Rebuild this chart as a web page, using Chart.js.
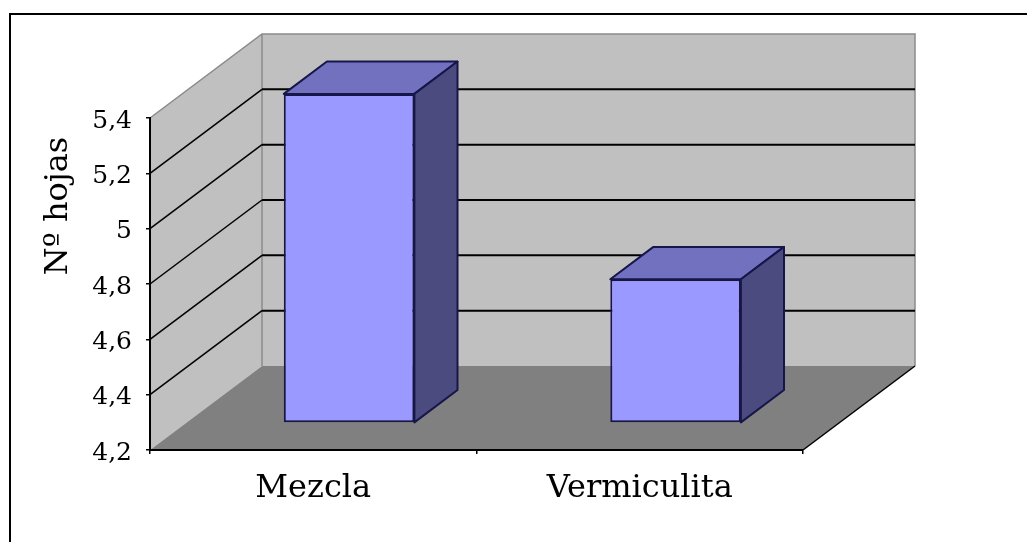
<!DOCTYPE html>
<html>
<head>
<meta charset="utf-8">
<script src="https://cdn.jsdelivr.net/npm/chart.js@4/dist/chart.umd.min.js"></script>
<style>
html, body { margin: 0; padding: 0; background: #ffffff; }
canvas { display: block; }
</style>
</head>
<body>
<canvas id="c" width="1027" height="542"></canvas>
<script>
// ---- data ----
const categories = ['Mezcla', 'Vermiculita'];
const hojas = [5.39, 4.72];
const yTickValues = [4.2, 4.4, 4.6, 4.8, 5.0, 5.2, 5.4];
const yTickLabels = ['4,2', '4,4', '4,6', '4,8', '5', '5,2', '5,4'];
const yTitle = 'Nº hojas';

// ---- 3D look ----
const DX = 112, DY = 84;          // depth of the plot box
const BAR_FRONT = 0.32;           // depth fraction of bar front face
const BAR_DEPTH = 0.385;          // depth fraction of bar thickness
const FONT = "'DejaVu Serif', 'Liberation Serif', serif";

function poly(ctx, pts) {
  ctx.beginPath();
  ctx.moveTo(pts[0][0], pts[0][1]);
  for (let i = 1; i < pts.length; i++) ctx.lineTo(pts[i][0], pts[i][1]);
  ctx.closePath();
}

const walls3d = {
  id: 'walls3d',
  beforeDraw(chart) {
    const { ctx, chartArea: a } = chart;
    const y = chart.scales.y;
    const L = a.left, R = a.right, T = a.top, B = a.bottom;
    ctx.save();
    ctx.fillStyle = '#ffffff';
    ctx.fillRect(0, 0, chart.width, chart.height);
    // outer frame
    ctx.strokeStyle = '#000000';
    ctx.lineWidth = 2;
    ctx.strokeRect(10, 14, 1200, 800);
    // back wall
    ctx.fillStyle = '#c0c0c0';
    ctx.fillRect(L + DX, T - DY, R - L, B - T);
    // side wall
    poly(ctx, [[L, T], [L + DX, T - DY], [L + DX, B - DY], [L, B]]);
    ctx.fill();
    // floor
    ctx.fillStyle = '#808080';
    poly(ctx, [[L, B], [R, B], [R + DX, B - DY], [L + DX, B - DY]]);
    ctx.fill();
    // wall edges
    ctx.strokeStyle = '#8a8a8a';
    ctx.lineWidth = 1.5;
    ctx.beginPath();
    ctx.moveTo(L, T); ctx.lineTo(L + DX, T - DY); ctx.lineTo(R + DX, T - DY); ctx.lineTo(R + DX, B - DY);
    ctx.moveTo(L + DX, T - DY); ctx.lineTo(L + DX, B - DY);
    ctx.stroke();
    // gridlines on the walls
    ctx.strokeStyle = '#000000';
    yTickValues.forEach(v => {
      if (v === yTickValues[0] || v === yTickValues[yTickValues.length - 1]) return;
      const py = y.getPixelForValue(v);
      ctx.lineWidth = 2;
      ctx.beginPath();
      ctx.moveTo(L + DX, py - DY); ctx.lineTo(R + DX, py - DY);
      ctx.stroke();
      ctx.lineWidth = 1.5;
      ctx.beginPath();
      ctx.moveTo(L, py); ctx.lineTo(L + DX, py - DY);
      ctx.stroke();
    });
    // floor right edge
    ctx.lineWidth = 1.5;
    ctx.beginPath();
    ctx.moveTo(R, B); ctx.lineTo(R + DX, B - DY);
    ctx.stroke();
    ctx.restore();
  },
  afterDraw(chart) {
    const { ctx } = chart;
    ctx.save();
    ctx.font = '32px ' + FONT;
    ctx.fillStyle = '#000000';
    ctx.textAlign = 'center';
    ctx.textBaseline = 'alphabetic';
    ctx.translate(67, 206);
    ctx.rotate(-Math.PI / 2);
    ctx.fillText(yTitle, 0, 0);
    ctx.restore();
  }
};

const bars3d = {
  id: 'bars3d',
  beforeDatasetsDraw(chart) {
    chart.ctx.save();
    chart.ctx.translate(BAR_FRONT * DX, -BAR_FRONT * DY);
  },
  afterDatasetsDraw(chart) {
    const ctx = chart.ctx;
    const bx = BAR_DEPTH * DX, by = BAR_DEPTH * DY;
    const meta = chart.getDatasetMeta(0);
    ctx.lineWidth = 2;
    ctx.strokeStyle = '#16164a';
    ctx.lineJoin = 'round';
    meta.data.forEach(bar => {
      const { x, y, base, width } = bar.getProps(['x', 'y', 'base', 'width'], true);
      const l = x - width / 2, r = x + width / 2;
      ctx.fillStyle = '#7171c0';
      poly(ctx, [[l, y], [r, y], [r + bx, y - by], [l + bx, y - by]]);
      ctx.fill(); ctx.stroke();
      ctx.fillStyle = '#4b4b80';
      poly(ctx, [[r, y], [r + bx, y - by], [r + bx, base - by], [r, base]]);
      ctx.fill(); ctx.stroke();
    });
    ctx.restore();
  }
};

new Chart(document.getElementById('c'), {
  type: 'bar',
  data: {
    labels: categories,
    datasets: [{
      data: hojas,
      base: yTickValues[0],
      clip: false,
      backgroundColor: '#9999ff',
      borderColor: '#16164a',
      borderWidth: 2,
      borderSkipped: false,
      barPercentage: 0.4,
      categoryPercentage: 1.0
    }]
  },
  options: {
    responsive: false,
    animation: false,
    devicePixelRatio: 1,
    layout: { padding: { left: 10, top: 118, right: 224, bottom: 0 } },
    plugins: { legend: { display: false }, tooltip: { enabled: false }, title: { display: false } },
    scales: {
      x: {
        grid: { display: true, drawOnChartArea: false, offset: true, tickLength: 4, color: '#000000', lineWidth: 1.5 },
        border: { display: true, color: '#000000', width: 2 },
        ticks: { color: '#000000', font: { family: FONT, size: 32 }, padding: 15, maxRotation: 0 },
        afterFit(scale) { scale.height = 92; }
      },
      y: {
        min: 4.2, max: 5.4,
        afterBuildTicks(scale) { scale.ticks = yTickValues.map(v => ({ value: v })); },
        grid: { display: true, drawOnChartArea: false, tickLength: 4, color: '#000000', lineWidth: 1.5 },
        border: { display: true, color: '#000000', width: 2 },
        ticks: {
          color: '#000000', font: { family: FONT, size: 25 }, padding: 14, labelOffset: 3,
          callback: (v, i) => yTickLabels[i]
        },
        afterFit(scale) { scale.width = 140; }
      }
    }
  },
  plugins: [walls3d, bars3d]
});
</script>
</body>
</html>
